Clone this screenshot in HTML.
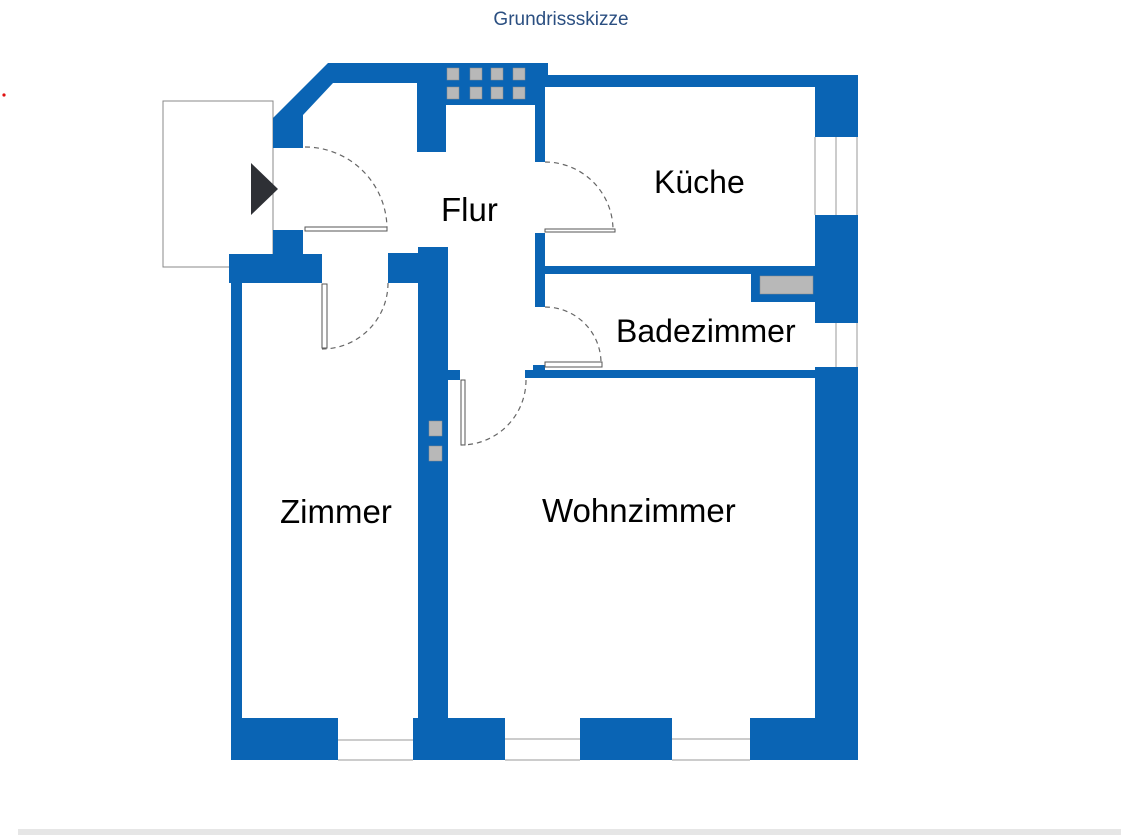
<!DOCTYPE html>
<html><head><meta charset="utf-8"><style>
html,body{margin:0;padding:0;background:#fff;}
body{width:1121px;height:835px;overflow:hidden;position:relative;}
svg{position:absolute;left:0;top:0;}
</style></head><body>
<svg width="1121" height="835" viewBox="0 0 1121 835" xmlns="http://www.w3.org/2000/svg">
<text x="561" y="25" text-anchor="middle" font-family="Liberation Sans, sans-serif" font-size="19" fill="#2b4f81">Grundrissskizze</text>
<circle cx="4" cy="95" r="1.6" fill="#e01010"/>
<rect x="163" y="101" width="110" height="166" fill="none" stroke="#888" stroke-width="1"/>
<g fill="#0a64b4">
<polygon points="328,63 548,63 548,75 858,75 858,87 545,87 545,162 535,162 535,105 446,105 446,152 417,152 417,83 333,83 303,115 303,148 273,148 273,118"/>
<rect x="815" y="75" width="43" height="62"/>
<rect x="815" y="215" width="43" height="108"/>
<rect x="815" y="367" width="43" height="393"/>
<rect x="535" y="233" width="10" height="74"/>
<rect x="545" y="266" width="270" height="8"/>
<rect x="751" y="273" width="64" height="29"/>
<rect x="525" y="370" width="290" height="8"/>
<rect x="533" y="365" width="12" height="6"/>
<rect x="273" y="230" width="30" height="25"/>
<rect x="229" y="254" width="93" height="29"/>
<rect x="231" y="254" width="11" height="506"/>
<rect x="388" y="253" width="30" height="30"/>
<rect x="418" y="247" width="30" height="513"/>
<rect x="446" y="370" width="14" height="10"/>
<rect x="233" y="718" width="105" height="42"/>
<rect x="413" y="718" width="92" height="42"/>
<rect x="580" y="718" width="92" height="42"/>
<rect x="750" y="718" width="108" height="42"/>
</g>
<g fill="#b8b8b8" stroke="#8a8a8a" stroke-width="0.5">
<rect x="447" y="68" width="12" height="12"/><rect x="470" y="68" width="12" height="12"/><rect x="491" y="68" width="12" height="12"/><rect x="513" y="68" width="12" height="12"/>
<rect x="447" y="87" width="12" height="12"/><rect x="470" y="87" width="12" height="12"/><rect x="491" y="87" width="12" height="12"/><rect x="513" y="87" width="12" height="12"/>
<rect x="429" y="421" width="13" height="15"/><rect x="429" y="446" width="13" height="15"/>
<rect x="760" y="276" width="53" height="18"/>
</g>
<g stroke="#999" stroke-width="1" fill="none">
<line x1="836" y1="137" x2="836" y2="215"/><line x1="815" y1="137" x2="815" y2="215"/><line x1="857" y1="137" x2="857" y2="215"/>
<line x1="836" y1="323" x2="836" y2="367"/><line x1="857" y1="323" x2="857" y2="367"/>
<line x1="338" y1="740" x2="413" y2="740"/><line x1="338" y1="760" x2="413" y2="760"/>
<line x1="505" y1="739" x2="580" y2="739"/><line x1="505" y1="760" x2="580" y2="760"/>
<line x1="672" y1="739" x2="750" y2="739"/><line x1="672" y1="760" x2="750" y2="760"/>
</g>
<g fill="#fff" stroke="#555" stroke-width="1">
<rect x="305" y="227" width="82" height="4"/>
<rect x="322" y="284" width="5" height="64"/>
<rect x="545" y="229" width="70" height="3"/>
<rect x="545" y="362" width="57" height="5"/>
<rect x="461" y="380" width="4" height="65"/>
</g>
<g fill="none" stroke="#666" stroke-width="1.2" stroke-dasharray="5,4">
<path d="M305,147 A82,82 0 0 1 387,228"/>
<path d="M388,283 A66,66 0 0 1 322,349"/>
<path d="M545,162 A68,68 0 0 1 613,230"/>
<path d="M545,307 A56,56 0 0 1 601,362"/>
<path d="M526,380 A65,65 0 0 1 461,445"/>
</g>
<polygon points="251,163 251,215 278,189" fill="#2e3035"/>
<g font-family="Liberation Sans, Arial, sans-serif" fill="#000">
<text x="441" y="221" font-size="33">Flur</text>
<text x="654" y="193" font-size="32">Küche</text>
<text x="616" y="342" font-size="32">Badezimmer</text>
<text x="280" y="523" font-size="33">Zimmer</text>
<text x="542" y="522" font-size="33">Wohnzimmer</text>
</g>
<rect x="18" y="829" width="1103" height="6" fill="#e6e6e6"/>
</svg>
</body></html>
